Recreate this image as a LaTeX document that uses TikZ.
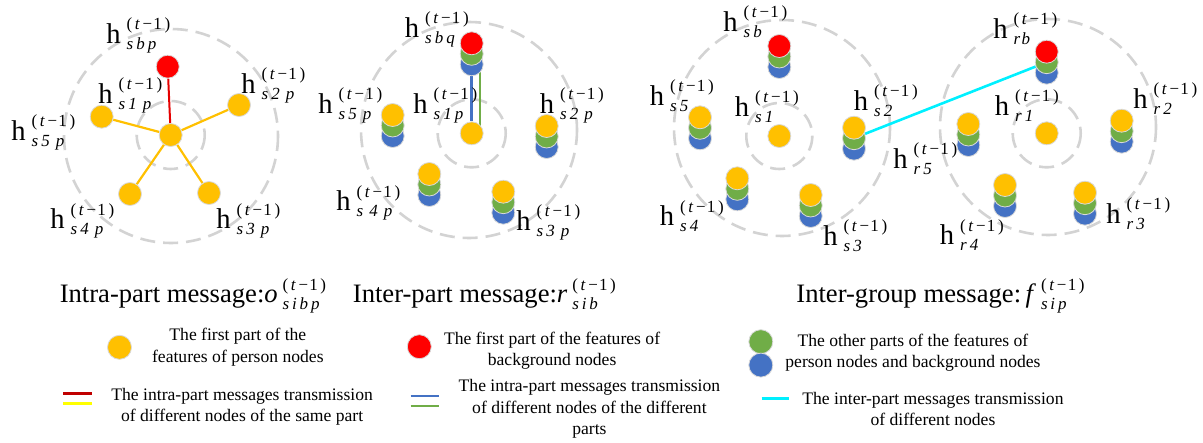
\documentclass[tikz,border=0pt]{standalone}
\usepackage{fontspec}
\setmainfont{Liberation Serif}
\usetikzlibrary{positioning, backgrounds}

\definecolor{partyellow}{HTML}{FFC000}
\definecolor{bgred}{HTML}{FF0000}
\definecolor{othgreen}{HTML}{70AD47}
\definecolor{othblue}{HTML}{4472C4}
\definecolor{ringgray}{HTML}{D3D3D3}
\definecolor{intercyan}{HTML}{00F0FF}
\definecolor{keyred}{HTML}{C00000}
\definecolor{keyyellow}{HTML}{FFFF00}

% gaps inside the indices
\newcommand{\ixsp}{\hspace{1.5pt}}
\newcommand{\ixwide}{\hspace{3pt}}
\newcommand{\tmone}{(\hspace{1.3pt}\textit{t}\hspace{1.3pt}−\hspace{0.6pt}1\hspace{1.3pt})}
% h with (t-1) above and the index below
\newcommand{\hsym}[1]{h\hspace{3pt}\raisebox{1.9pt}{\fontsize{8.5}{10}\selectfont\begin{tabular}[c]{@{}l@{}}\tmone\\\textit{#1}\end{tabular}}}
\newcommand{\msgsym}[2]{\textit{#1}\hspace{2.5pt}\raisebox{0.9pt}{\fontsize{8.5}{9.6}\selectfont\begin{tabular}[c]{@{}l@{}}\tmone\\\textit{#2}\end{tabular}}}
% blue, green and a top disk
\newcommand{\featstack}[4]{%
  \node[udisk] (#1u) at (#2,#3+21) {};
  \node[gdisk] (#1g) at (#2,#3+10.5) {};
  \node[#4] (#1) at (#2,#3) {};}

\begin{document}
\begin{tikzpicture}[
        x=0.5pt, y=-0.5pt,
        disk/.style={circle, inner sep=0pt, minimum size=11.5pt, draw=white!70!gray, line width=0.4pt},
        pdisk/.style={disk, fill=partyellow},
        bdisk/.style={disk, fill=bgred},
        gdisk/.style={disk, fill=othgreen},
        udisk/.style={disk, fill=othblue},
        keydisk/.style={minimum size=12pt},
        ring/.style={draw=ringgray, line width=1.3pt, dash pattern=on 7.5pt off 4pt},
        hlab/.style={anchor=west, inner sep=0pt, font=\fontsize{14.3}{16}\selectfont},
        msgtitle/.style={anchor=base west, inner sep=0pt, font=\fontsize{13.3}{16}\selectfont},
        legtext/.style={align=center, inner sep=0pt, font=\fontsize{8.8}{10.8}\selectfont},
        yline/.style={draw=partyellow, line width=1.1pt},
        rline/.style={draw=bgred!90!black, line width=1pt},
        uline/.style={draw=othblue, line width=1.7pt},
        gline/.style={draw=othgreen, line width=0.8pt},
        cline/.style={draw=intercyan, line width=1.3pt},
        keyline/.style={line width=1.4pt}
    ]
        \useasboundingbox (0,0) rectangle (1203,443);

        % Intra-part (left)
        \node[pdisk] (i1) at (170.7,135) {};
        \node[bdisk] (ib) at (167.7,66.7) {};
        \node[pdisk] (i2) at (239,105) {};
        \node[pdisk] (i3) at (209,193) {};
        \node[pdisk] (i4) at (130,194) {};
        \node[pdisk] (i5) at (101.7,116.7) {};
        \node[hlab] (lib) at (106,36) {\hsym{s\ixsp b\ixsp p}};
        \node[hlab] (li1) at (98,96) {\hsym{s\ixsp 1\ixwide p}};
        \node[hlab] (li2) at (241,86) {\hsym{s\ixsp 2\ixwide p}};
        \node[hlab] (li3) at (216,221) {\hsym{s\ixsp 3\ixwide p}};
        \node[hlab] (li4) at (50,221) {\hsym{s\ixsp 4\ixwide p}};
        \node[hlab] (li5) at (11,133) {\hsym{s\ixsp 5\ixwide p}};

        % Inter-part
        \node[pdisk] (p1) at (471.7,133.3) {};
        \featstack{pb}{471.7}{43.3}{bdisk}
        \featstack{p2}{546.7}{126}{pdisk}
        \featstack{p3}{503.3}{191.7}{pdisk}
        \featstack{p4}{429.3}{174}{pdisk}
        \featstack{p5}{392.7}{115}{pdisk}
        \node[hlab] (lpb) at (404.5,30) {\hsym{s\ixsp b\ixsp q}};
        \node[hlab] (lp1) at (413,106) {\hsym{s\ixsp 1\ixsp p}};
        \node[hlab] (lp2) at (539.5,106) {\hsym{s\ixsp 2\ixwide p}};
        \node[hlab] (lp3) at (516,223) {\hsym{s\ixsp 3\ixwide p}};
        \node[hlab] (lp4) at (336,203) {\hsym{s\ixwide 4\ixwide p}};
        \node[hlab] (lp5) at (318,106) {\hsym{s\ixsp 5\ixwide p}};

        % Inter-group (two groups)
        \node[pdisk] (s1) at (779.3,136) {};
        \featstack{sb}{779.3}{46}{bdisk}
        \featstack{s2}{854}{127.7}{pdisk}
        \featstack{s3}{810.7}{195}{pdisk}
        \featstack{s4}{737.3}{178.3}{pdisk}
        \featstack{s5}{700}{117.3}{pdisk}
        \node[hlab] (lsb) at (723,24) {\hsym{s\ixsp b}};
        \node[hlab] (ls1) at (734.5,109) {\hsym{s\ixsp 1}};
        \node[hlab] (ls2) at (853.5,103) {\hsym{s\ixsp 2}};
        \node[hlab] (ls3) at (823,238) {\hsym{s\ixsp 3}};
        \node[hlab] (ls4) at (659.5,218) {\hsym{s\ixsp 4}};
        \node[hlab] (ls5) at (649.5,98) {\hsym{s\ixsp 5}};

        \node[pdisk] (r1) at (1046.7,133.3) {};
        \featstack{rb}{1046.7}{51.7}{bdisk}
        \featstack{r2}{1121.7}{120.7}{pdisk}
        \featstack{r3}{1085}{192.7}{pdisk}
        \featstack{r4}{1005}{185}{pdisk}
        \featstack{r5}{968.3}{124}{pdisk}
        \node[hlab] (lrb) at (993,31) {\hsym{r\hspace{0.6pt}b}};
        \node[hlab] (lr1) at (994.5,108) {\hsym{r\ixsp 1}};
        \node[hlab] (lr2) at (1133,101) {\hsym{r\ixsp 2}};
        \node[hlab] (lr3) at (1106,216) {\hsym{r\ixsp 3}};
        \node[hlab] (lr4) at (939.5,237) {\hsym{r\ixsp 4}};
        \node[hlab] (lr5) at (893,161) {\hsym{r\ixsp 5}};

        % Rings and connections
        \begin{scope}[on background layer]
            \draw[ring] (171,136) circle (107);
            \draw[ring] (i1.center) circle (34);
            \draw[ring] (469,130) circle (108);
            \draw[ring] (p1.center) circle (34);
            \draw[ring] (782,128) circle (108);
            \draw[ring] (s1.center) circle (33);
            \draw[ring] (1048,127) circle (108);
            \draw[ring] (r1.center) circle (34);
            \foreach \n in {i2,i3,i4,i5} \draw[yline] (i1) -- (\n);
            \draw[rline] (i1) -- (ib);
            \draw[uline] (pbu) -- (p1);
            \draw[gline] ([xshift=4.2pt]pbg.center) -- ([xshift=4.2pt]p1.center);
            \draw[cline] (s2g) -- (rbg);
        \end{scope}

        % Titles
        \node[msgtitle] (t1) at (59.4,302) {Intra-part message:\msgsym{o}{s\,i\,b\,p}};
        \node[msgtitle] (t2) at (352.5,302) {Inter-part message:\msgsym{r}{s\,i\,b}};
        \node[msgtitle] (t3) at (796,302) {Inter-group message:\,\msgsym{f}{s\,i\,p}};

        % Legend
        \node[pdisk, keydisk] (kp) at (119.5,347.3) {};
        \node[legtext, right=9.9pt of kp] (kpt) {The first part of the\\features of person nodes};
        \node[bdisk, keydisk] (kb) at (419.3,346.7) {};
        \node[legtext, right=6pt of kb, yshift=-2pt] (kbt) {The first part of the features of\\background nodes};
        \node[gdisk, keydisk] (kg) at (760.8,341.7) {};
        \node[udisk, keydisk, below=-0.7pt of kg] (ku) {};
        \node[legtext, right=5.9pt of kg, yshift=-5.5pt] (kgt) {The other parts of the features of\\person nodes and background nodes};

        \coordinate (kra) at (63,393.3);
        \coordinate (krb) at (92,393.3);
        \coordinate (kya) at (63,403.3);
        \coordinate (kyb) at (92,403.3);
        \draw[keyline, draw=keyred] (kra) -- (krb);
        \draw[keyline, draw=keyyellow] (kya) -- (kyb);
        \node[legtext, right=9.5pt of kyb, yshift=-1.7pt] (kyt) {The intra-part messages transmission\\of different nodes of the same part};

        \coordinate (kua) at (410.7,396);
        \coordinate (kub) at (439.3,396);
        \coordinate (kga) at (410.7,406);
        \coordinate (kgb) at (439.3,406);
        \draw[keyline, draw=othblue] (kua) -- (kub);
        \draw[keyline, draw=othgreen] (kga) -- (kgb);
        \node[legtext, right=9.5pt of kgb, yshift=-1.4pt] (kgbt) {The intra-part messages transmission\\of different nodes of the different\\parts};

        \coordinate (kca) at (761.5,398.3);
        \coordinate (kcb) at (788.5,398.3);
        \draw[keyline, draw=intercyan] (kca) -- (kcb);
        \node[legtext, right=6.75pt of kcb, yshift=-5.4pt] (kct) {The inter-part messages transmission\\of different nodes};
    \end{tikzpicture}
\end{document}
